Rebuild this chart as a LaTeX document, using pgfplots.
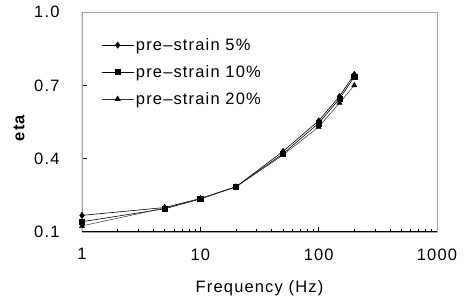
\documentclass[border=0pt]{standalone}
\usepackage{pgfplots}
\pgfplotsset{compat=1.18}
\usepackage{fontspec}
\setmainfont{Liberation Sans}[LetterSpace=7]
\newcommand\bigf{\fontsize{16.5}{19}\selectfont}
\begin{document}
\begin{tikzpicture}
\begin{axis}[
  name=ax,
  scale only axis, width=355pt, height=220pt,
  xmode=log, xmin=1, xmax=1000, ymin=0.1, ymax=1.0,
  xtick={1,10,100,1000}, xticklabels={1,10,100,1000},
  ytick={0.1,0.4,0.7,1.0},
  yticklabel style={xshift=-19pt, /pgf/number format/fixed, /pgf/number format/fixed zerofill, /pgf/number format/precision=1},
  /pgf/number format/assume math mode=true,
  minor xtick={}, minor ytick={},
  tick align=inside, xtick pos=bottom, ytick pos=left,
  major tick length=5pt,
  tick style={black, line width=0.6pt},
  ticklabel style={font=\bigf},
  label style={font=\bigf},
  xticklabel style={yshift=-13pt},
  xlabel={Frequency (Hz)}, ylabel={\bfseries eta},
  xlabel style={at={(axis description cs:0.5,-0.255)}, anchor=center},
  ylabel style={at={(axis description cs:-0.177,0.473)}, anchor=center},
  axis line style={line width=0.7pt, gray!70},
  legend style={draw=none, fill=none, at={(axis description cs:0.054,0.89)}, anchor=north west,
    font=\bigf, row sep=9.5pt, inner sep=0pt},
  legend cell align=left,
  legend image code/.code={
    \draw[mark repeat=2, mark phase=2] plot coordinates {(0pt,0pt) (16pt,0pt) (32pt,0pt)};
  },
]
\addplot[black, line width=0.6pt, mark=diamond*, mark size=3pt] coordinates {
(1,0.168) (5,0.20) (10,0.237) (20,0.285) (50,0.43) (100,0.555) (150,0.655) (200,0.745)};
\addlegendentry{pre–strain 5\%}
\addplot[black, line width=0.6pt, mark=square*, mark size=2.6pt] coordinates {
(1,0.142) (5,0.195) (10,0.235) (20,0.285) (50,0.42) (100,0.545) (150,0.645) (200,0.735)};
\addlegendentry{pre–strain 10\%}
\addplot[black!80, line width=0.5pt, mark=triangle*, mark size=3pt, mark options={black}] coordinates {
(1,0.125) (5,0.198) (10,0.236) (20,0.284) (50,0.415) (100,0.53) (150,0.628) (200,0.70)};
\addlegendentry{pre–strain 20\%}
\draw[black, line width=1pt] (rel axis cs:0,0) -- (rel axis cs:0,1);
\draw[black, line width=1pt] (rel axis cs:0,0) -- (rel axis cs:1,0);
\end{axis}
\pgfresetboundingbox
\path ([xshift=-82pt,yshift=-68pt]ax.south west) rectangle ([xshift=29pt,yshift=12pt]ax.north east);
\end{tikzpicture}
\end{document}
